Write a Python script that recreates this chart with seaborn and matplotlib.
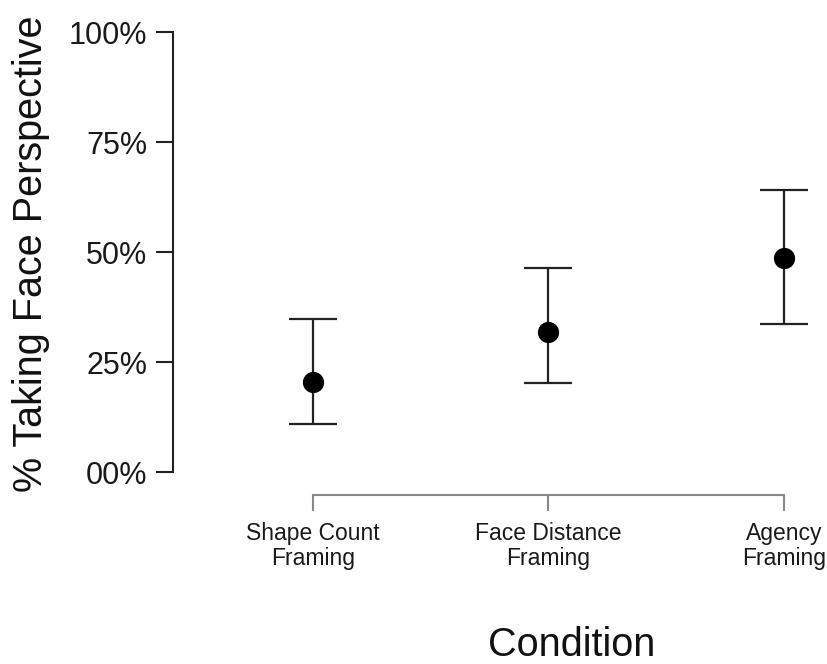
import pandas as pd
import matplotlib
matplotlib.use("Agg")
import matplotlib.pyplot as plt
import seaborn as sns

# Data (percent)
conditions = ["Shape Count Framing", "Face Distance Framing", "Agency Framing"]
tick_labels = ["Shape Count\nFraming", "Face Distance\nFraming", "Agency\nFraming"]
pct_face = [20.4, 31.8, 48.6]
ci_low = [10.9, 20.2, 33.6]
ci_high = [34.8, 46.4, 64.1]
y_ticks = [0, 25, 50, 75, 100]
y_tick_labels = ["00%", "25%", "50%", "75%", "100%"]

df = pd.DataFrame({"Condition": conditions, "Pct": pct_face,
                   "Low": ci_low, "High": ci_high})

sns.set_style("ticks")
plt.rcParams['font.family'] = ['Liberation Sans', 'DejaVu Sans']

W, H = 827, 664
fig = plt.figure(figsize=(W / 100, H / 100), dpi=100)
# axes placed in pixel terms (0% at y=472, 100% at y=32)
y0, y100 = 472, 32
ppu = (y0 - y100) / 100
ylo = -5.2
left, right = 173, 807.5
top, bottom = y100, y0 - ylo * ppu
ax = fig.add_axes([left / W, (H - bottom) / H, (right - left) / W, (bottom - top) / H])

sns.scatterplot(data=df, x="Condition", y="Pct", color="black", s=200,
                edgecolor="black", zorder=3, ax=ax, legend=False)

# error bars
ax.errorbar(df["Condition"], df["Pct"],
            yerr=[df["Pct"] - df["Low"], df["High"] - df["Pct"]],
            fmt="none", ecolor="#222222", elinewidth=1.6,
            capsize=17, capthick=1.6, zorder=2)

ax.set_xlim(-0.594, 2.1)
ax.set_ylim(ylo, 100)

# R-style detached axes
sns.despine(ax=ax)
ax.spines['left'].set_bounds(0, 100)
ax.spines['left'].set_color("#222222")
ax.spines['left'].set_linewidth(1.5)
ax.spines['bottom'].set_bounds(0, 2)
ax.spines['bottom'].set_color("#888888")
ax.spines['bottom'].set_linewidth(1.5)

ax.set_yticks(y_ticks)
ax.set_yticklabels(y_tick_labels, fontsize=22, color="#1a1a1a")
ax.tick_params(axis='y', length=12.5, width=1.5, color="#222222", pad=6)

ax.set_xticks(range(len(conditions)))
ax.set_xticklabels(tick_labels, fontsize=16.5, color="#1a1a1a", linespacing=1.12)
ax.tick_params(axis='x', length=11.5, width=1.5, color="#888888", pad=8)

ax.set_ylabel("% Taking Face Perspective", fontsize=28.5, color="#111111", va="center")
ax.yaxis.set_label_coords(-0.224, 0.52)
ax.set_xlabel("Condition", fontsize=28.5, color="#111111", va="center")
ax.xaxis.set_label_coords(0.629, -0.325)

fig.savefig("out.png", dpi=100)
